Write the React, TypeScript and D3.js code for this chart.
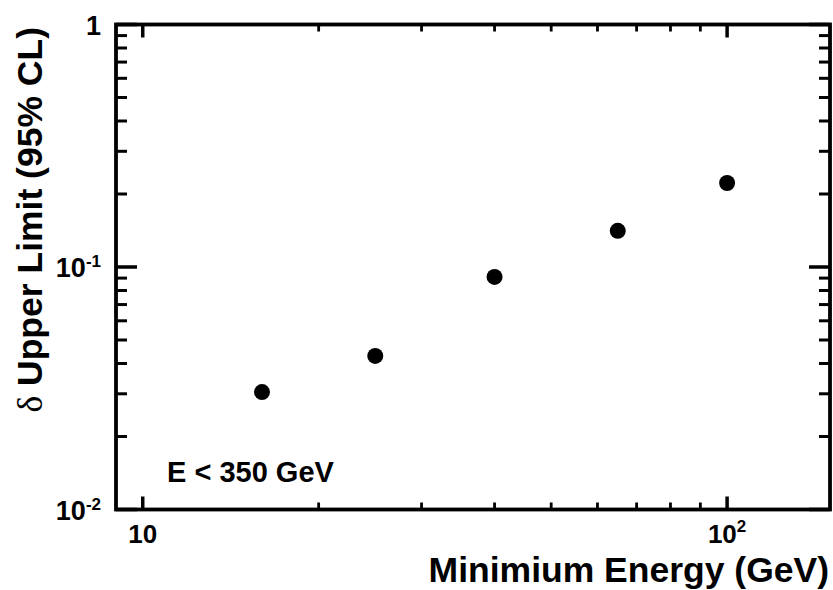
import React from "react";
import * as d3 from "d3";

// ---- data ----
const minEnergy = [16, 25, 40, 65, 100];
const deltaLimit = [0.0305, 0.043, 0.091, 0.141, 0.222];

const xMajorTicks = [10, 100];
const xTickBase = ["10", "10"];
const xTickExp = ["", "2"];
const yMajorTicks = [0.01, 0.1, 1];
const yTickBase = ["10", "10", "1"];
const yTickExp = ["-2", "-1", ""];

const xTitle = "Minimium Energy (GeV)";
const yTitleGreek = "δ";
const yTitleRest = " Upper Limit (95% CL)";
const annotation = "E < 350 GeV";

const W = 833;
const H = 590;
const left = 116;
const right = 830;
const top = 24.5;
const bottom = 509.5;
const FONT = "'Liberation Sans', Arial, Helvetica, sans-serif";

export default function App() {
  const x = d3.scaleLog().domain([9, 150]).range([left, right]);
  const y = d3.scaleLog().domain([0.01, 1]).range([bottom, top]);

  const isMajor = (v: number) => Math.abs(Math.log10(v) - Math.round(Math.log10(v))) < 1e-9;
  const xMinor = x.ticks().filter((v) => !isMajor(v) && v > 9 && v < 150);
  const yMinor = y.ticks().filter((v) => !isMajor(v));

  return (
    <svg
      width={W}
      height={H}
      style={{ position: "absolute", left: 0, top: 0, display: "block", background: "#fff" }}
      fontFamily={FONT}
      fontWeight="bold"
    >
      <rect x={0} y={0} width={W} height={H} fill="#fff" />
      {/* y ticks */}
      {yMajorTicks.map((v, i) => (
        <g key={"ym" + i} stroke="#000" strokeWidth={3.5}>
          <line x1={left} x2={left + 21} y1={y(v)} y2={y(v)} />
          <line x1={right} x2={right - 21} y1={y(v)} y2={y(v)} />
        </g>
      ))}
      {yMinor.map((v, i) => (
        <g key={"yn" + i} stroke="#000" strokeWidth={3}>
          <line x1={left} x2={left + 11} y1={y(v)} y2={y(v)} />
          <line x1={right} x2={right - 11} y1={y(v)} y2={y(v)} />
        </g>
      ))}
      {/* x ticks */}
      {xMajorTicks.map((v, i) => (
        <g key={"xm" + i} stroke="#000" strokeWidth={3.5}>
          <line x1={x(v)} x2={x(v)} y1={bottom} y2={bottom - 13} />
          <line x1={x(v)} x2={x(v)} y1={top} y2={top + 13} />
        </g>
      ))}
      {xMinor.map((v, i) => (
        <g key={"xn" + i} stroke="#000" strokeWidth={2.8}>
          <line x1={x(v)} x2={x(v)} y1={bottom} y2={bottom - 7} />
          <line x1={x(v)} x2={x(v)} y1={top} y2={top + 7} />
        </g>
      ))}
      {/* frame */}
      <rect
        x={left}
        y={top}
        width={right - left}
        height={bottom - top}
        fill="none"
        stroke="#000"
        strokeWidth={3.8}
      />
      {/* y tick labels */}
      {yMajorTicks.map((v, i) => (
        <text key={"yl" + i} x={101} y={y(v) + 10} fontSize={27} textAnchor="end">
          {yTickBase[i]}
          {yTickExp[i] && (
            <tspan fontSize={17} dy={-10}>
              {yTickExp[i]}
            </tspan>
          )}
        </text>
      ))}
      {/* x tick labels */}
      {xMajorTicks.map((v, i) => (
        <text key={"xl" + i} x={x(v)} y={543} fontSize={26} textAnchor="middle">
          {xTickBase[i]}
          {xTickExp[i] && (
            <tspan fontSize={17} dy={-11}>
              {xTickExp[i]}
            </tspan>
          )}
        </text>
      ))}
      {/* points */}
      {minEnergy.map((e, i) => (
        <circle key={"p" + i} cx={x(e)} cy={y(deltaLimit[i])} r={8} fill="#000" />
      ))}
      {/* annotation */}
      <text x={167} y={482} fontSize={29}>
        {annotation}
      </text>
      {/* axis titles */}
      <text x={829} y={582} fontSize={35.5} textAnchor="end">
        {xTitle}
      </text>
      <text
        transform="translate(42,27) rotate(-90)"
        fontSize={35.5}
        textAnchor="end"
      >
        <tspan fontFamily="'Liberation Serif', serif" fontWeight="normal">
          {yTitleGreek}
        </tspan>
        {yTitleRest}
      </text>
    </svg>
  );
}
